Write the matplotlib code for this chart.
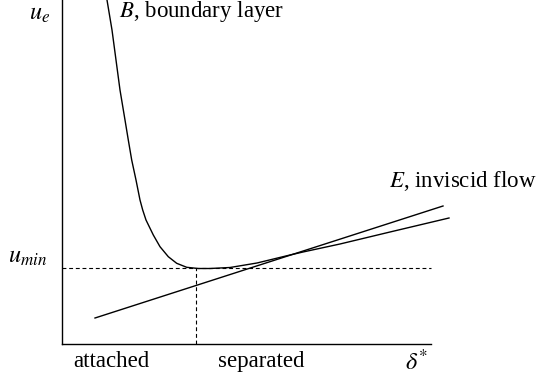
import matplotlib.pyplot as plt

plt.rcParams['font.family'] = ['Liberation Serif', 'DejaVu Serif']
plt.rcParams['mathtext.fontset'] = 'stix'

# B: boundary layer curve, read along its length
b_x = [45, 50, 54, 58, 63, 66.3, 69.7, 74, 78, 80.7, 84, 91.3, 98, 106.3, 114.7,
       124.7, 136.3, 148, 168, 195, 228, 241, 278, 328, 387]
b_y = [344, 314, 284, 254, 224, 204, 184, 164, 144, 134, 124, 109, 97.3, 87.3, 80.7,
       76.7, 75.5, 75.5, 76.5, 81, 89, 92, 100, 112, 126]

# E: inviscid flow line
e_x = [33, 381]
e_y = [26, 138]

u_min = 76
delta_sep = 134
x_end = 369

fig = plt.figure(figsize=(5.39, 3.80), dpi=100)
ax = fig.add_axes([62 / 539, 36 / 380, 398 / 539, 344 / 380])
ax.set_xlim(0, 398)
ax.set_ylim(0, 344)

ax.plot(b_x, b_y, color='black', lw=1.0, solid_joinstyle='round', clip_on=False)
ax.plot(e_x, e_y, color='black', lw=1.0, clip_on=False)
ax.plot([0, x_end], [u_min, u_min], color='black', lw=0.8, ls=(0, (3.5, 2.5)))
ax.plot([delta_sep, delta_sep], [0, u_min], color='black', lw=0.8, ls=(0, (3.5, 2.5)))

for s in ['top', 'right']:
    ax.spines[s].set_visible(False)
ax.spines['bottom'].set_bounds(0, x_end)
ax.spines['left'].set_linewidth(1.0)
ax.spines['bottom'].set_linewidth(1.0)
ax.set_xticks([])
ax.set_yticks([])

fs = 16.5
ax.text(-22, 329, r'$u_e$', fontsize=17.5, ha='center', va='center')
ax.text(-54, 81, r'$u_{min}$', fontsize=17.5, ha='left', va='baseline', clip_on=False)
ax.text(57, 327, r'$B$, boundary layer', fontsize=fs, ha='left', va='baseline')
ax.text(327, 157, r'$E$, inviscid flow', fontsize=fs, ha='left', va='baseline')
ax.text(11, -23, 'attached', fontsize=fs, ha='left', va='baseline')
ax.text(156, -23, 'separated', fontsize=fs, ha='left', va='baseline')
ax.text(343, -26, r'$\delta^{*}$', fontsize=17.5, ha='left', va='baseline')

fig.savefig('out.png', dpi=100)
